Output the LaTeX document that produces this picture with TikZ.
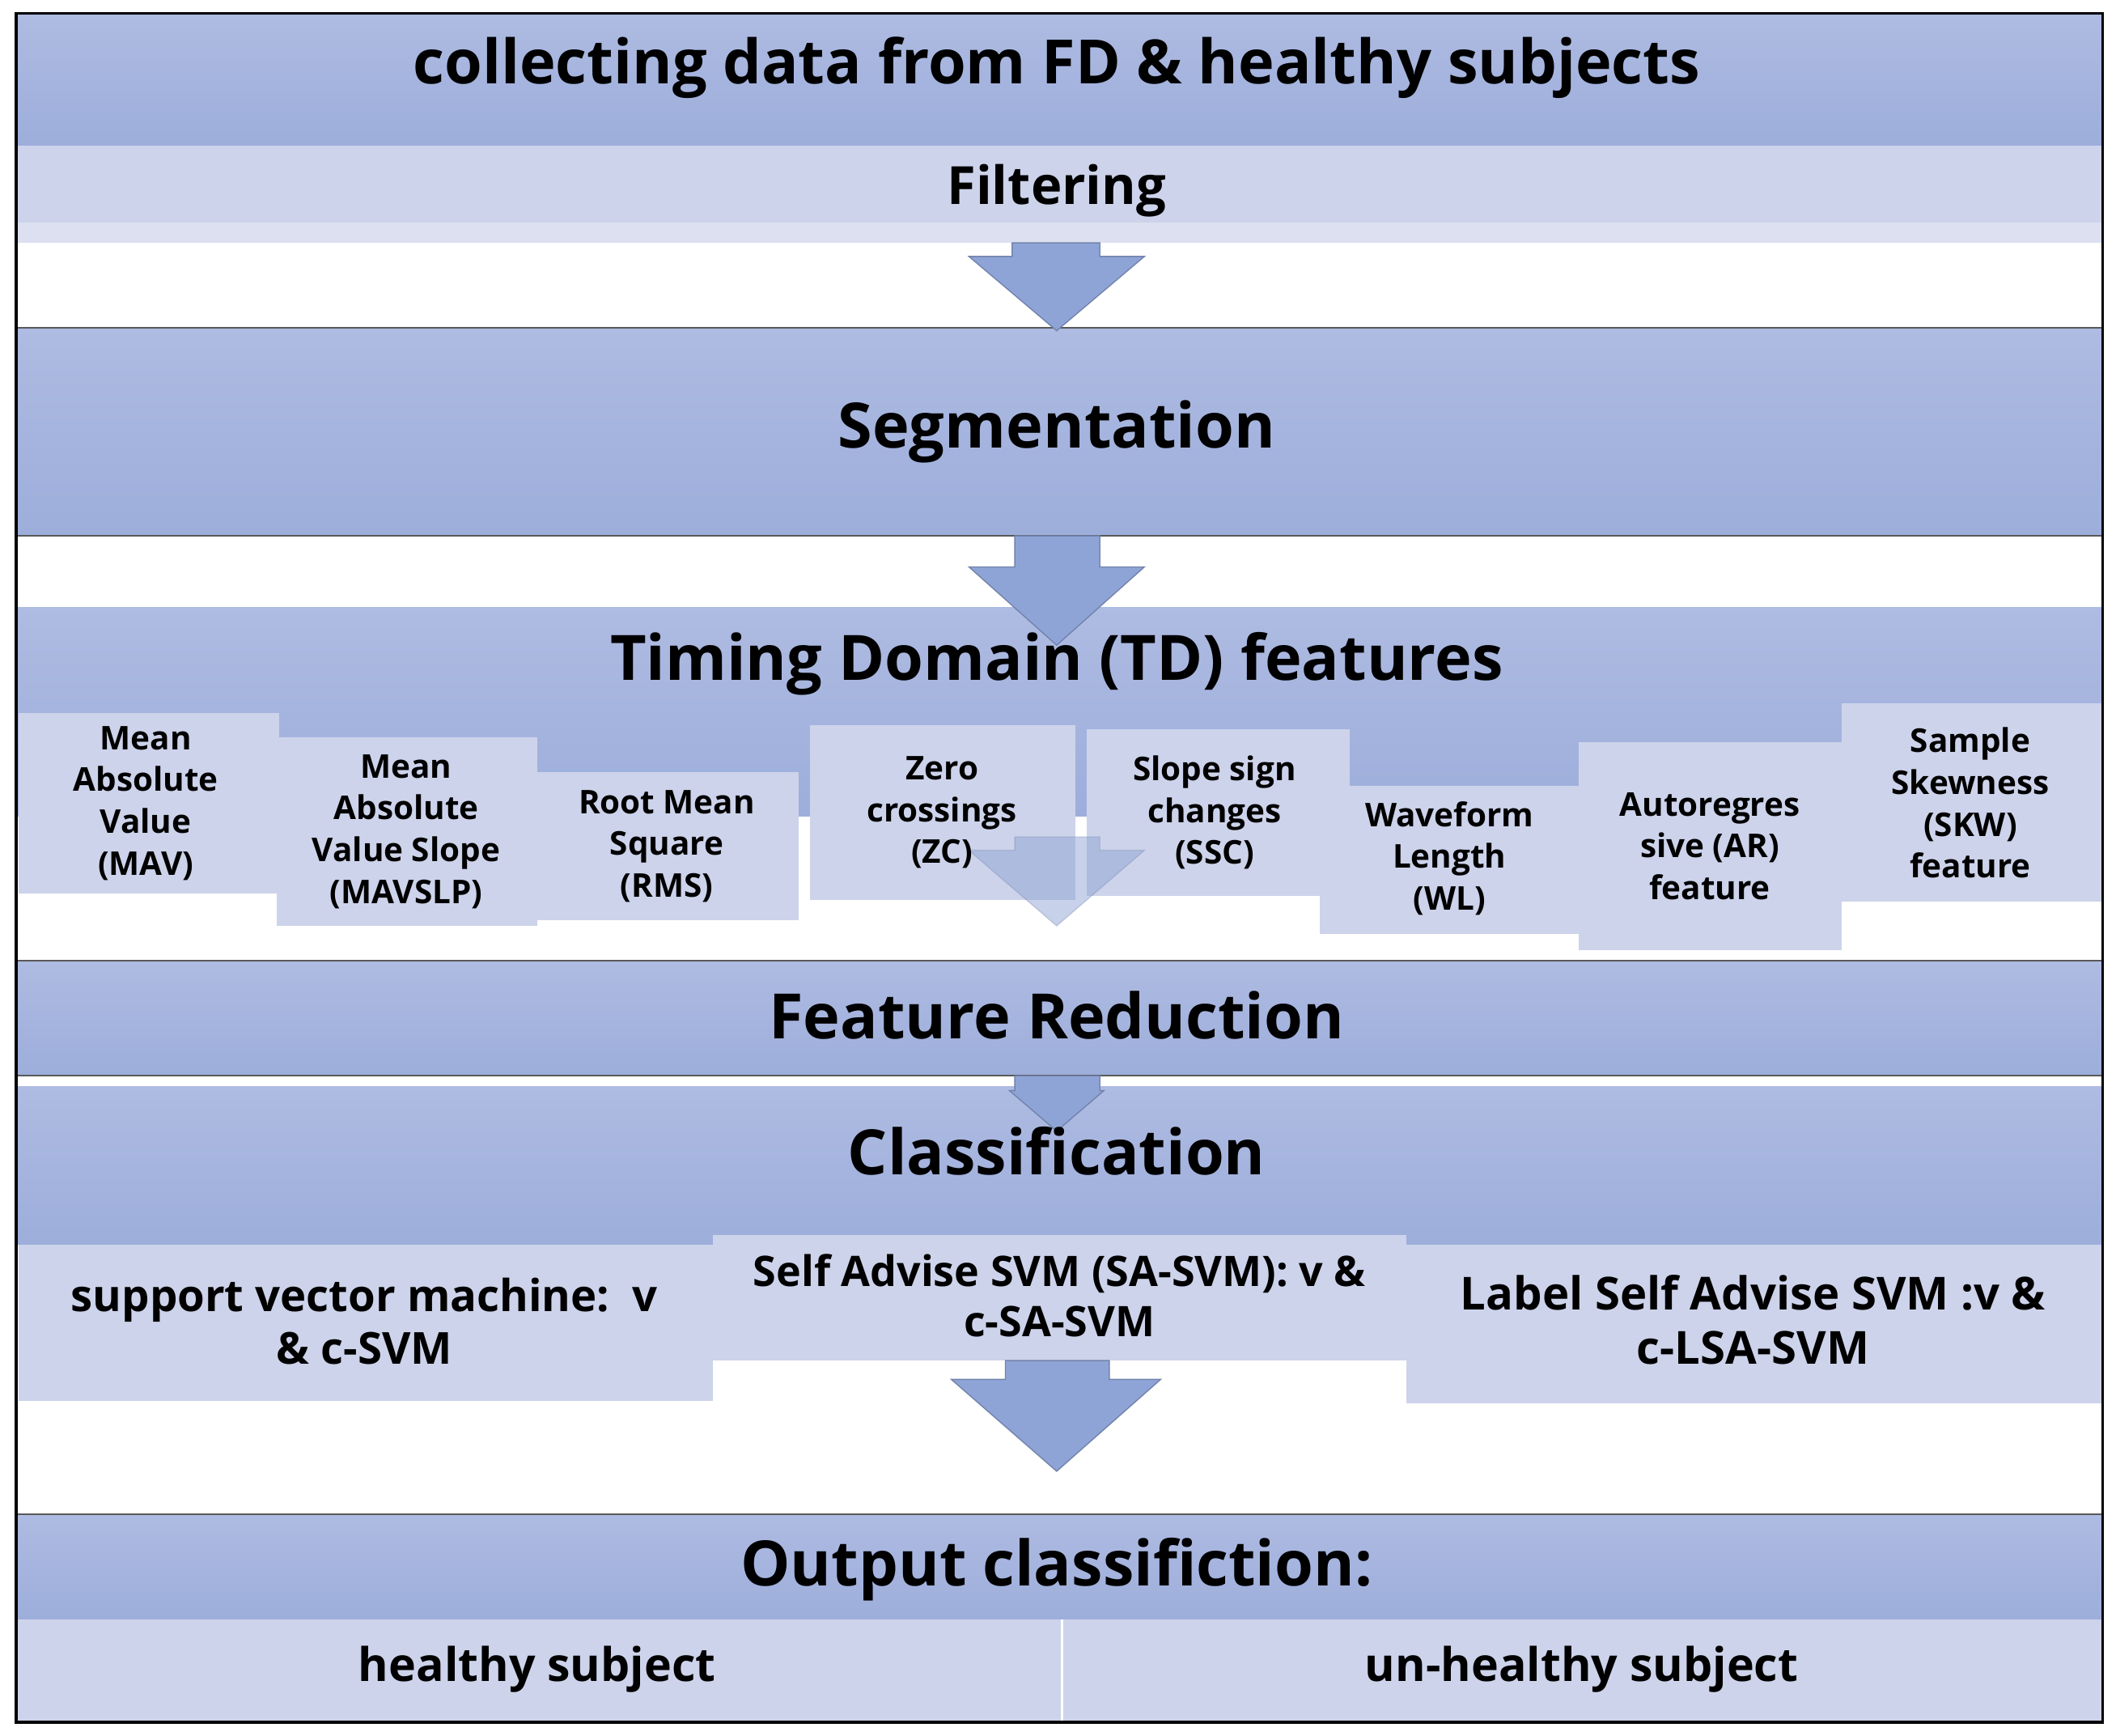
\documentclass[tikz,border=0pt]{standalone}
\usepackage{fontspec}
\setmainfont{Open Sans}
\usetikzlibrary{positioning, calc}
\definecolor{banddark}{HTML}{9DAEDB}
\definecolor{bandtop}{HTML}{AEBBE2}
\definecolor{bandlight}{HTML}{CDD3EA}
\definecolor{arrowfill}{HTML}{8FA4D6}
\tikzset{
  band/.style={
    top color = bandtop,
    bottom color = banddark,
    draw = none
  },
  lightbox/.style={
    fill = bandlight,
    draw = none
  },
  bigarrow/.style={
    fill = arrowfill,
    draw = arrowfill!80!black,
    line width = 0.4pt
  },
  title/.style={
    font = \bfseries\fontsize{22}{26}\selectfont,
    inner sep = 0
  },
  feature/.style={
    font = \bfseries\fontsize{11.5}{14.7}\selectfont,
    align = center,
    inner sep = 0
  },
  method/.style={
    font = \bfseries\fontsize{15.5}{18.5}\selectfont,
    align = center,
    inner sep = 0
  }
}

\begin{document}
\begin{tikzpicture}[x=0.01668cm, y=-0.01668cm]
    \useasboundingbox (0,0) rectangle (1568,1286);
    % bands
    \fill[band] (12,10) rectangle (1558,108);
    \fill[lightbox] (12,108) rectangle (1558,165);
    \fill[bandlight!70!white] (12,165) rectangle (1558,180);
    \fill[band] (12,243) rectangle (1558,397);
    \fill[band] (12,450) rectangle (1558,605);
    \fill[band] (12,712) rectangle (1558,797);
    \fill[band] (12,805) rectangle (1558,922);
    \fill[band] (12,1122) rectangle (1558,1200);
    \fill[lightbox] (12,1200) rectangle (1558,1276);
    \draw[white, line width=1pt] (787,1200) -- (787,1276);
    \draw[gray!70!black, line width=0.6pt] (12,243) -- (1558,243);
    \draw[gray!70!black, line width=0.6pt] (12,397) -- (1558,397);
    \draw[gray!70!black, line width=0.6pt] (12,712) -- (1558,712);
    \draw[gray!70!black, line width=0.6pt] (12,797) -- (1558,797);
    \draw[gray!70!black, line width=0.6pt] (12,1122) -- (1558,1122);

    % arrows
    \draw[bigarrow] (750,180) -- (815,180) -- (815,190) -- (848,190) -- (783,245) -- (718,190) -- (750,190) -- cycle;
    \draw[bigarrow] (752,397) -- (815,397) -- (815,420) -- (848,420) -- (783,478) -- (718,420) -- (752,420) -- cycle;
    \draw[bigarrow] (752,797) -- (815,797) -- (815,808) -- (818,808) -- (783,838) -- (748,808) -- (752,808) -- cycle;

    % feature boxes
    \fill[lightbox] (14,528) rectangle (207,662);
    \fill[lightbox] (205,546) rectangle (398,686);
    \fill[lightbox] (398,572) rectangle (592,682);
    \fill[lightbox] (600,537) rectangle (797,667);
    \fill[lightbox] (805,540) rectangle (1000,664);
    \fill[lightbox] (978,582) rectangle (1170,692);
    \fill[lightbox] (1170,550) rectangle (1365,704);
    \fill[lightbox] (1365,521) rectangle (1558,668);
    \draw[bigarrow, fill opacity=0.5, draw opacity=0.3] (752,620) -- (815,620) -- (815,630) -- (848,630) -- (783,686) -- (718,630) -- (752,630) -- cycle;

    % method boxes
    \fill[lightbox] (14,922) rectangle (528,1038);
    \fill[lightbox] (528,915) rectangle (1042,1008);
    \fill[lightbox] (1042,922) rectangle (1558,1040);
    \draw[bigarrow] (745,1008) -- (822,1008) -- (822,1022) -- (860,1022) -- (783,1090) -- (705,1022) -- (745,1022) -- cycle;

    % frame
    \draw[black, line width=1pt] (12,10) rectangle (1558,1276);

    % texts
    \node[title, font=\bfseries\fontsize{21.5}{25}\selectfont] (collect) at (783,50) {collecting data from FD \& healthy subjects};
    \node[title, font=\bfseries\fontsize{18.5}{22}\selectfont] (filter) at (783,141) {Filtering};
    \node[title] (segment) at (783,320) {Segmentation};
    \node[title] (tdfeat) at (783,492) {Timing Domain (TD) features};
    \node[feature] (mav) at (108,595) {Mean\\Absolute\\Value\\(MAV)};
    \node[feature] (mavslp) at (301,616) {Mean\\Absolute\\Value Slope\\(MAVSLP)};
    \node[feature] (rms) at (494,627) {Root Mean\\Square\\(RMS)};
    \node[feature] (zc) at (698,602) {Zero\\crossings\\(ZC)};
    \node[feature] (ssc) at (900,602) {Slope sign\\changes\\(SSC)};
    \node[feature] (wl) at (1074,636) {Waveform\\Length\\(WL)};
    \node[feature] (ar) at (1267,627) {Autoregres\\sive (AR)\\feature};
    \node[feature] (skw) at (1460,595) {Sample\\Skewness\\(SKW)\\feature};
    \node[title] (reduce) at (783,752) {Feature Reduction};
    \node[title] (classify) at (783,853) {Classification};
    \node[method] (svm) at (270,979) {support vector machine:~~v\\\& c-SVM};
    \node[method, font=\bfseries\fontsize{14.8}{17.5}\selectfont] (sasvm) at (785,960) {Self Advise SVM (SA-SVM): v \&\\c-SA-SVM};
    \node[method, font=\bfseries\fontsize{16}{19}\selectfont] (lsasvm) at (1299,978) {Label Self Advise SVM :v \&\\c-LSA-SVM};
    \node[title] (output) at (783,1163) {Output classifiction:};
    \node[method, font=\bfseries\fontsize{16.3}{19}\selectfont] (healthy) at (398,1237) {healthy subject};
    \node[method, font=\bfseries\fontsize{16.3}{19}\selectfont] (unhealthy) at (1172,1237) {un-healthy subject};
\end{tikzpicture}
\end{document}
